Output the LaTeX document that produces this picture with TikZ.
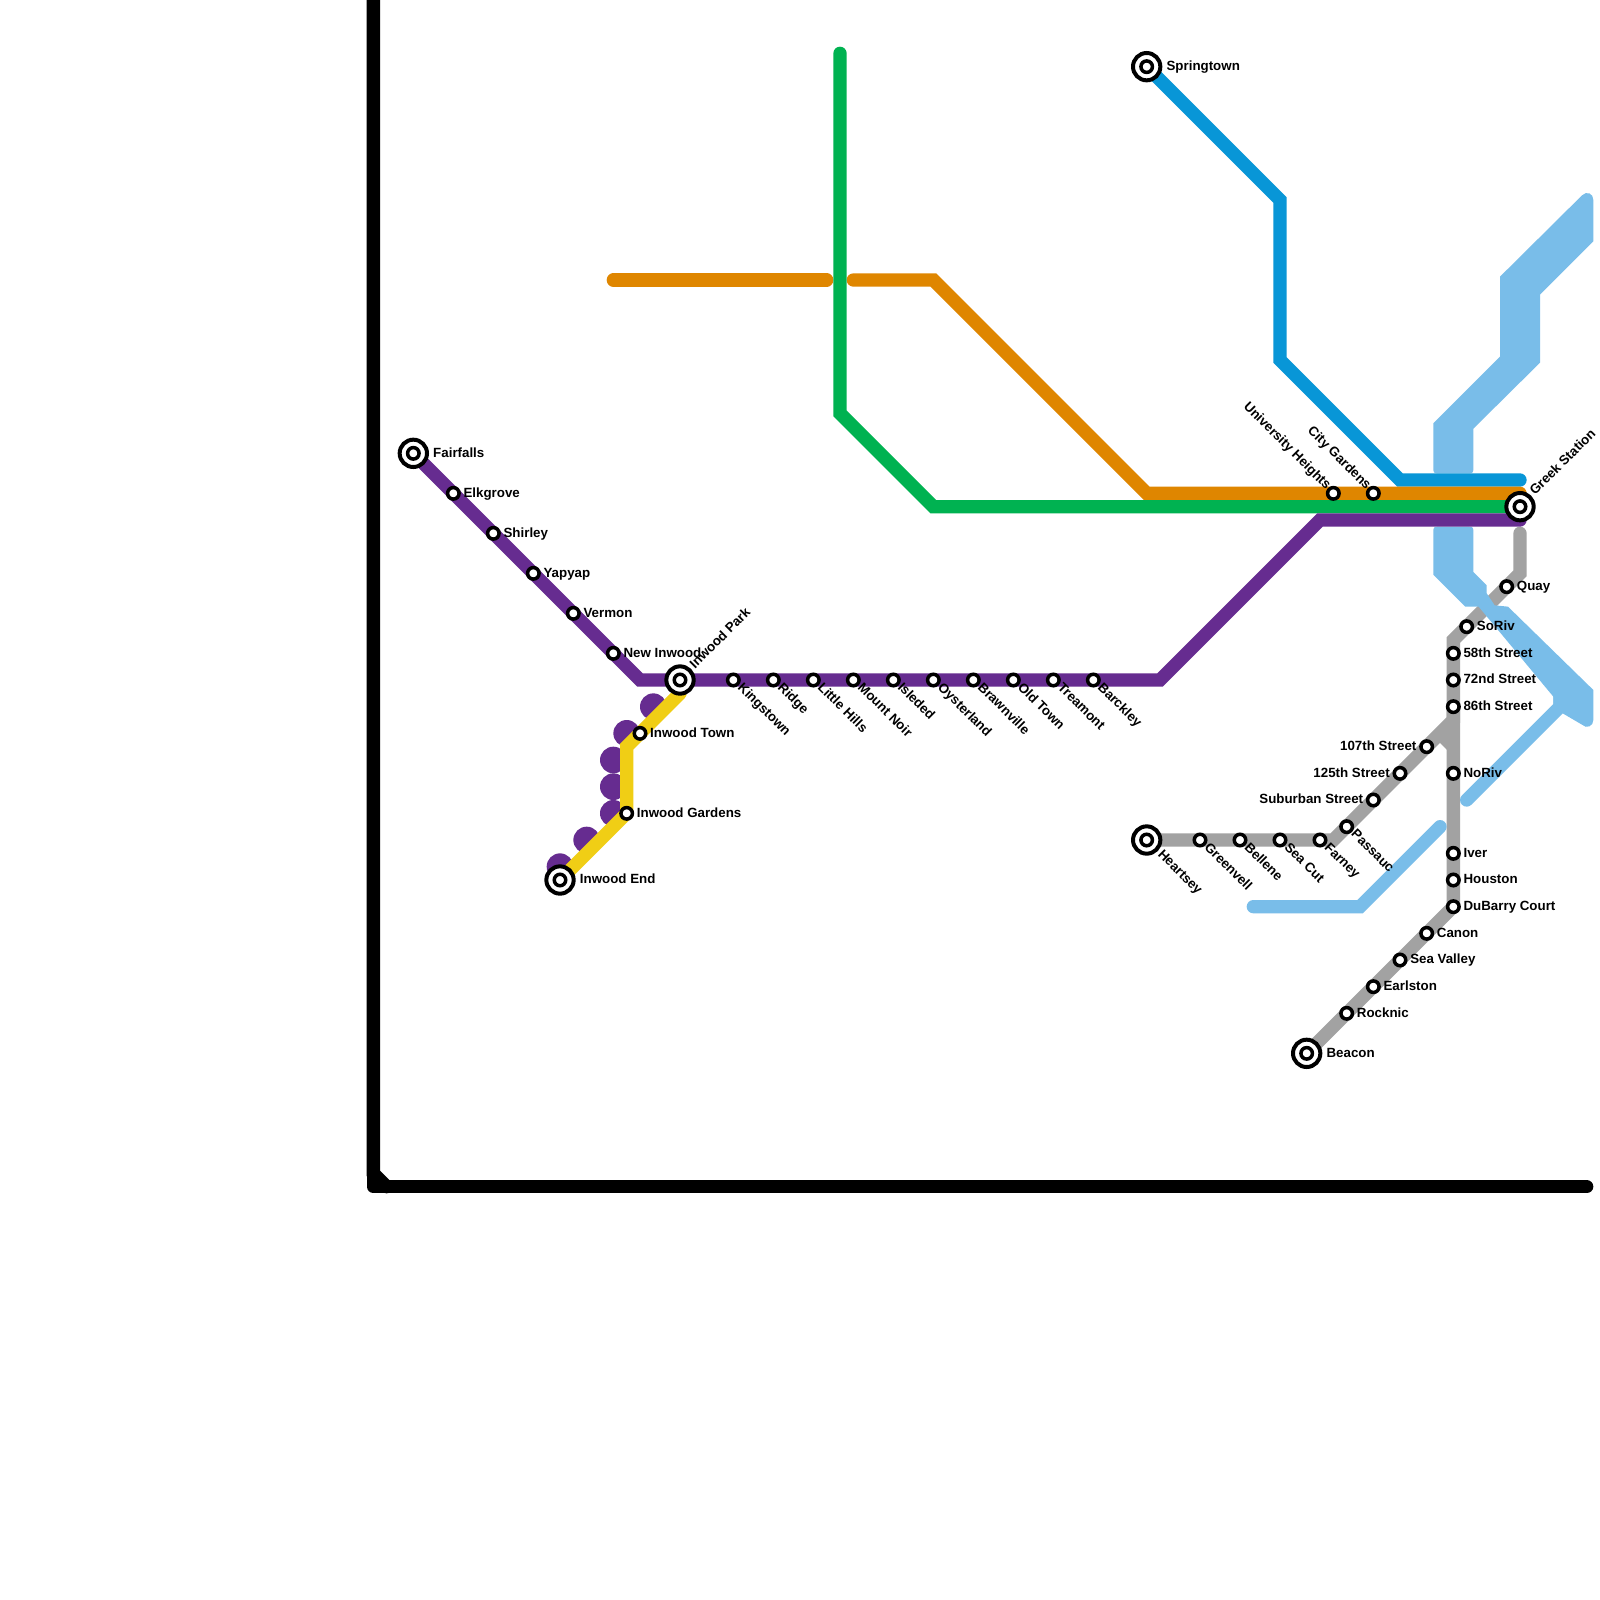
\documentclass[tikz,border=0pt]{standalone}
\usepackage{fontspec}
\setmainfont{Liberation Sans}
\usetikzlibrary{backgrounds}
\definecolor{lpurple}{HTML}{662C90}
\definecolor{lyellow}{HTML}{F0CE15}
\definecolor{lgreen}{HTML}{00B251}
\definecolor{lorange}{HTML}{DF8600}
\definecolor{lblue}{HTML}{0896D7}
\definecolor{lsky}{HTML}{79BDE9}
\definecolor{lgrey}{HTML}{A2A2A2}
\tikzset{
  x=0.4cm,y=-0.4cm,
  metro/.style={line width=0.4cm,line cap=round,line join=miter,miter limit=10},
  stopdot/.style={circle,draw=black,fill=white,line width=0.105cm,minimum size=0.345cm,inner sep=0pt},
  termring/.style={circle,draw=black,fill=white,line width=0.12cm,minimum size=0.82cm,inner sep=0pt},
  lab/.style={inner sep=0pt,text=black,font=\fontsize{11.38pt}{13pt}\selectfont\bfseries},
  lr/.style={lab,anchor=mid west,xshift=0.3cm,yshift=-0.02cm},
  ll/.style={lab,anchor=mid east,xshift=-0.3cm,yshift=-0.02cm},
  ldr/.style={lab,anchor=mid west,rotate=-45,xshift=0.25cm},
  lul/.style={lab,anchor=mid east,rotate=-45,xshift=-0.22cm},
  tr/.style={lab,anchor=mid west,xshift=0.59cm,yshift=-0.02cm},
  tur/.style={lab,anchor=mid west,rotate=45,xshift=0.54cm},
  tdr/.style={lab,anchor=mid west,rotate=-45,xshift=0.54cm},
}
\newcommand{\stn}[4]{\node[stopdot] (#1) at (#2) {};\node[#3] (#1-t) at (#2) {#4};}
\newcommand{\trm}[4]{\node[termring] (#1) at (#2) {};\node[stopdot] (#1-d) at (#2) {};\node[#3] (#1-t) at (#2) {#4};}
\begin{document}
\begin{tikzpicture}
\useasboundingbox (0,0) rectangle (120,120);
% stations
\trm{fairfalls}{31,34}{tr}{Fairfalls}
\stn{elkgrove}{34,37}{lr}{Elkgrove}
\stn{shirley}{37,40}{lr}{Shirley}
\stn{yapyap}{40,43}{lr}{Yapyap}
\stn{vermon}{43,46}{lr}{Vermon}
\stn{newinwood}{46,49}{lr}{New Inwood}
\trm{inwoodpark}{51,51}{tur}{Inwood Park}
\stn{inwoodtown}{48,55}{lr}{Inwood Town}
\stn{inwoodgardens}{47,61}{lr}{Inwood Gardens}
\trm{inwoodend}{42,66}{tr}{Inwood End}
\stn{kingstown}{55,51}{ldr}{Kingstown}
\stn{ridge}{58,51}{ldr}{Ridge}
\stn{littlehills}{61,51}{ldr}{Little Hills}
\stn{mountnoir}{64,51}{ldr}{Mount Noir}
\stn{isleded}{67,51}{ldr}{Isleded}
\stn{oysterland}{70,51}{ldr}{Oysterland}
\stn{brawnville}{73,51}{ldr}{Brawnville}
\stn{oldtown}{76,51}{ldr}{Old Town}
\stn{treamont}{79,51}{ldr}{Treamont}
\stn{barckley}{82,51}{ldr}{Barckley}
\trm{springtown}{86,5}{tr}{Springtown}
\stn{university}{100,37}{lul}{University Heights}
\stn{citygardens}{103,37}{lul}{City Gardens}
\trm{greek}{114,38}{tur}{Greek Station}
\trm{heartsey}{86,63}{tdr}{Heartsey}
\stn{greenvell}{90,63}{ldr}{Greenvell}
\stn{bellene}{93,63}{ldr}{Bellene}
\stn{seacut}{96,63}{ldr}{Sea Cut}
\stn{farney}{99,63}{ldr}{Farney}
\stn{passauc}{101,62}{ldr}{Passauc}
\stn{suburban}{103,60}{ll}{Suburban Street}
\stn{s125}{105,58}{ll}{125th Street}
\stn{s107}{107,56}{ll}{107th Street}
\stn{quay}{113,44}{lr}{Quay}
\stn{soriv}{110,47}{lr}{SoRiv}
\stn{s58}{109,49}{lr}{58th Street}
\stn{s72}{109,51}{lr}{72nd Street}
\stn{s86}{109,53}{lr}{86th Street}
\stn{noriv}{109,58}{lr}{NoRiv}
\stn{iver}{109,64}{lr}{Iver}
\stn{houston}{109,66}{lr}{Houston}
\stn{dubarry}{109,68}{lr}{DuBarry Court}
\stn{canon}{107,70}{lr}{Canon}
\stn{seavalley}{105,72}{lr}{Sea Valley}
\stn{earlston}{103,74}{lr}{Earlston}
\stn{rocknic}{101,76}{lr}{Rocknic}
\trm{beacon}{98,79}{tr}{Beacon}
% free ends and bends
\coordinate (bkA) at (28,0);\coordinate (bkB) at (28,88);\coordinate (bkC) at (29,89);\coordinate (bkD) at (28,89);\coordinate (bkE) at (119,89);
\coordinate (puA) at (48,51);\coordinate (puB) at (87,51);\coordinate (puC) at (99,39);\coordinate (puD) at (114,39);
\coordinate (yeA) at (51,52);\coordinate (yeB) at (47,56);
\coordinate (orA) at (46,21);\coordinate (orB) at (62,21);\coordinate (orC) at (64,21);\coordinate (orD) at (70,21);\coordinate (orE) at (86,37);\coordinate (orF) at (114,37);
\coordinate (grA) at (63,4);\coordinate (grB) at (63,31);\coordinate (grC) at (70,38);
\coordinate (blA) at (96,15);\coordinate (blB) at (96,27);\coordinate (blC) at (105,36);\coordinate (blD) at (114,36);
\coordinate (gyA) at (114,40);\coordinate (gyB) at (114,43);\coordinate (gyC) at (109,48);\coordinate (gyD) at (100,63);\coordinate (gyE) at (109,54);\coordinate (gyF) at (108,55);\coordinate (gyG) at (109,56);
\coordinate (skA) at (94,68);\coordinate (skB) at (102,68);\coordinate (skC) at (108,62);\coordinate (skD) at (110,60);\coordinate (skE) at (117,53);\coordinate (skF) at (117,52);
\begin{scope}[on background layer]
\fill[white] (0,0) rectangle (120,120);
\draw[metro,black] (bkA) -- (bkB) -- (bkC);
\draw[metro,black,line join=round] (bkB) -- (bkD) -- (bkE);
% purple dots beside the yellow line
\foreach \cx/\cy in {49/53,47/55,46/57,46/59,46/61,44/63,42/65}{
  \fill[lpurple] (\cx,\cy) circle[radius=0.4cm];
}
\draw[metro,lyellow] (yeA) -- (yeB) -- (inwoodgardens.center) -- (inwoodend.center);
% grey
\draw[metro,lgrey] (gyA) -- (gyB) -- (gyC) -- (dubarry.center) -- (beacon.center);
\draw[metro,lgrey] (heartsey.center) -- (gyD) -- (gyE) -- (s86.center);
\draw[metro,lgrey,line cap=butt] (gyF) -- (gyG);
% sky blue bundles
\fill[lsky] (112.5,20.75) -- (118.65,14.65) .. controls (119,14.3) and (119.5,14.5) .. (119.5,15) -- (119.5,18.1) -- (115.5,22.1) -- (115.5,27.2) -- (110.5,32.15) -- (110.5,35) .. controls (110.5,35.5) .. (110,35.5) -- (108,35.5) .. controls (107.5,35.5) .. (107.5,35) -- (107.5,31.75) -- (112.5,26.75) -- cycle;
\fill[lsky] (107.5,40) .. controls (107.5,39.5) .. (108,39.5) -- (110,39.5) .. controls (110.5,39.5) .. (110.5,40) -- (110.5,42.9) -- (111.5,43.9) -- (111.5,44.5) -- (112.1,45.4) -- (113.1,45.5) -- (119.5,51.75) -- (119.5,54) .. controls (119.5,54.45) and (119,54.7) .. (118.65,54.35) -- (117.2,53.5) -- (116.5,52.8) -- (116.5,52.25) -- (110.9,45.5) -- (109.9,45.5) -- (107.5,43.1) -- cycle;
\draw[metro,lsky] (skD) -- (skE) -- (skF);
\draw[metro,lsky] (skA) -- (skB) -- (skC);
% blue, orange, green, purple
\draw[metro,lblue] (springtown.center) -- (blA) -- (blB) -- (blC) -- (blD);
\draw[metro,lorange] (orA) -- (orB);
\draw[metro,lorange] (orC) -- (orD) -- (orE) -- (orF);
\draw[metro,lgreen] (grA) -- (grB) -- (grC) -- (greek.center);
\draw[metro,lpurple] (fairfalls.center) -- (puA) -- (puB) -- (puC) -- (puD);
\end{scope}
\end{tikzpicture}
\end{document}
